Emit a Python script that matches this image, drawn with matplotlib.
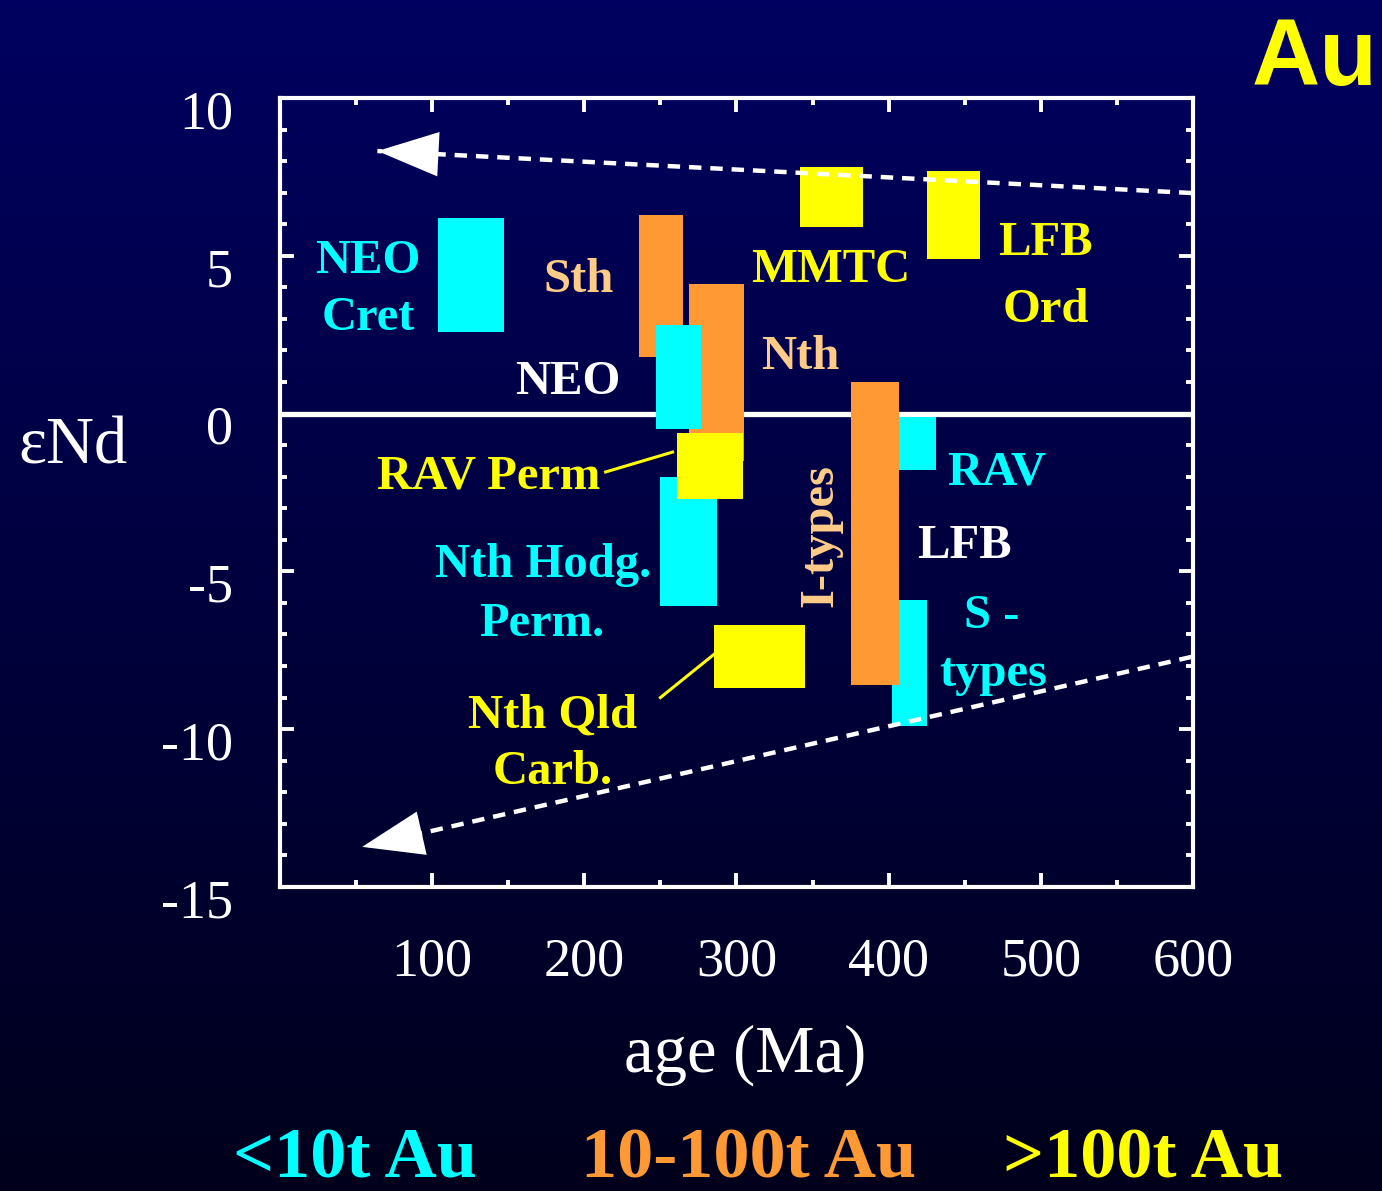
import numpy as np
import matplotlib
matplotlib.use("Agg")
import matplotlib.pyplot as plt
from matplotlib.colors import LinearSegmentedColormap
from matplotlib.transforms import ScaledTranslation

# cajas: edad (Ma) y rango de eNd, en orden de dibujo
box_names = ["NEO Cret", "RAV", "S-types", "Sth", "Nth", "I-types", "NEO",
             "Nth Hodg Perm", "RAV Perm", "Nth Qld Carb", "MMTC", "LFB Ord"]
age_min = [104, 407, 402, 236, 269, 375, 247, 250, 261, 285, 342, 425]
age_max = [147, 431, 425, 265, 305, 407, 277, 287, 304, 345, 383, 460]
end_min = [2.6, -1.8, -9.9, 1.8, -1.5, -8.6, -0.5, -6.1, -2.7, -8.7, 5.9, 4.9]
end_max = [6.2, -0.1, -5.9, 6.3, 4.1, 1.0, 2.8, -2.0, -0.6, -6.7, 7.8, 7.7]
box_class = ["<10", "<10", "<10", "10-100", "10-100", "10-100", "<10",
             "<10", ">100", ">100", ">100", ">100"]

# flechas de tendencia (cola -> punta)
arrow_tail_x = [599, 599]
arrow_tail_y = [6.99, -7.71]
arrow_tip_x = [64, 54]
arrow_tip_y = [8.32, -13.73]

x_ticks = [100, 200, 300, 400, 500, 600]
y_ticks = [10, 5, 0, -5, -10, -15]

CYAN = "#00FFFF"
ORANGE = "#FF9933"
YELLOW = "#FFFF00"
TAN = "#FFCC88"
colores = {"<10": CYAN, "10-100": ORANGE, ">100": YELLOW}

SERIF = "Liberation Serif"

fig = plt.figure(figsize=(13.82, 11.91), dpi=100)

# fondo degradado azul
bg = fig.add_axes([0, 0, 1, 1], zorder=-10)
cmap = LinearSegmentedColormap.from_list("fondo", ["#00001C", "#000060"])
grad = np.linspace(0, 1, 256).reshape(-1, 1)
bg.imshow(grad, aspect="auto", cmap=cmap, origin="lower", extent=[0, 1, 0, 1])
bg.axis("off")

ax = fig.add_axes([0.2026, 0.2553, 0.6606, 0.6624])
ax.set_facecolor("none")
ax.set_xlim(0, 600)
ax.set_ylim(-15, 10)

# linea de cero
ax.axhline(0, color="white", lw=3.8, zorder=1)

widths = np.array(age_max) - np.array(age_min)
heights = np.array(end_max) - np.array(end_min)
ax.bar(age_min, heights, width=widths, bottom=end_min, align="edge",
       color=[colores[c] for c in box_class], linewidth=0, zorder=2)

# flechas discontinuas
for i in range(2):
    ax.plot([arrow_tail_x[i], arrow_tip_x[i]], [arrow_tail_y[i], arrow_tip_y[i]],
            color="white", lw=3.2, dashes=(2.8, 2.0), zorder=3, clip_on=False)
    ax.annotate("", xy=(arrow_tip_x[i], arrow_tip_y[i]),
                xytext=(arrow_tail_x[i], arrow_tail_y[i]),
                arrowprops=dict(arrowstyle="-|>,head_length=1.1,head_width=0.4",
                                mutation_scale=40, lw=0, fc="white", ec="white",
                                shrinkA=0, shrinkB=0), zorder=4)

# ejes
for s in ax.spines.values():
    s.set_color("white")
    s.set_linewidth(3)
ax.set_xticks(x_ticks)
ax.set_xticklabels([str(v) for v in x_ticks])
ax.set_xticks(np.arange(50, 600, 50), minor=True)
ax.set_yticks(y_ticks)
ax.set_yticklabels([str(v) for v in y_ticks])
ax.set_yticks(np.arange(-15, 11, 1), minor=True)
ax.tick_params(which="both", direction="in", top=True, right=True, color="white",
               width=2.8, labelcolor="white")
ax.tick_params(which="major", length=10, labelsize=39)
ax.tick_params(which="minor", length=5)
ax.tick_params(axis="y", pad=34)
ax.tick_params(axis="x", pad=36)
for lbl in ax.get_xticklabels() + ax.get_yticklabels():
    lbl.set_family(SERIF)
for lbl in ax.get_yticklabels():
    lbl.set_transform(lbl.get_transform() + ScaledTranslation(0, -0.11, fig.dpi_scale_trans))

# etiquetas de las cajas
def etiqueta(x, y, s, c, va="center_baseline", **kw):
    ax.text(x, y, s, color=c, fontsize=35, fontweight="bold", family=SERIF,
            ha="center", va=va, zorder=5, **kw)

etiqueta(58, 5.0, "NEO", CYAN)
etiqueta(58, 3.2, "Cret", CYAN)
etiqueta(196, 4.4, "Sth", TAN)
etiqueta(362, 4.7, "MMTC", YELLOW)
etiqueta(503, 5.55, "LFB", YELLOW)
etiqueta(503, 3.45, "Ord", YELLOW)
etiqueta(342, 1.95, "Nth", TAN)
etiqueta(189, 1.15, "NEO", "white")
etiqueta(137, -1.85, "RAV Perm", YELLOW)
etiqueta(471, -1.7, "RAV", CYAN)
etiqueta(450, -4.05, "LFB", "white")
etiqueta(355, -3.85, "I-types", TAN, va="center", rotation=90)
etiqueta(173, -4.65, "Nth Hodg.", CYAN)
etiqueta(172, -6.5, "Perm.", CYAN)
etiqueta(468, -6.25, "S -", CYAN)
etiqueta(469, -8.1, "types", CYAN)
etiqueta(179, -9.4, "Nth Qld", YELLOW)
etiqueta(179, -11.2, "Carb.", YELLOW)

# lineas guia
ax.plot([214, 258], [-1.85, -1.22], color=YELLOW, lw=2.2, zorder=5)
ax.plot([250, 286], [-9.0, -7.6], color=YELLOW, lw=2.2, zorder=5)

# titulos de ejes
fig.text(745 / 1382, 1 - 1048 / 1191, "age (Ma)", color="white", fontsize=48,
         family=SERIF, ha="center", va="center_baseline")
fig.text(73 / 1382, 1 - 440 / 1191, "\u03b5Nd", color="white", fontsize=48,
         family=SERIF, ha="center", va="center_baseline")

# titulo Au
fig.text(1315 / 1382, 1 - 50 / 1191, "Au", color=YELLOW, fontsize=68,
         family="Liberation Sans", fontweight="bold", ha="center", va="center_baseline")

# leyenda inferior
ley_y = 1 - 1152 / 1191
fig.text(355 / 1382, ley_y, "<10t Au", color=CYAN, fontsize=52,
         family=SERIF, fontweight="bold", ha="center", va="center_baseline")
fig.text(749 / 1382, ley_y, "10-100t Au", color=ORANGE, fontsize=52,
         family=SERIF, fontweight="bold", ha="center", va="center_baseline")
fig.text(1143 / 1382, ley_y, ">100t Au", color=YELLOW, fontsize=52,
         family=SERIF, fontweight="bold", ha="center", va="center_baseline")

fig.savefig("out.png", dpi=100)
